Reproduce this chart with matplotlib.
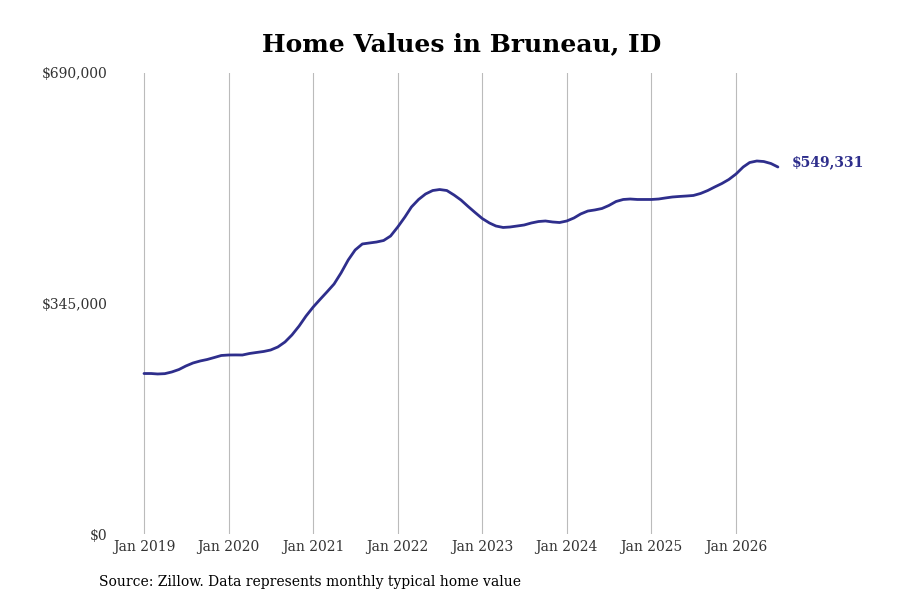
import pandas as pd
import numpy as np
import matplotlib
matplotlib.use("Agg")
import matplotlib.pyplot as plt
import matplotlib.dates as mdates

# === Données (valeur mensuelle typique) ===
dates = pd.date_range("2019-01-01", periods=91, freq="MS")
values = [
    240200, 240200, 239500, 240000, 242500, 246200, 251500, 256000, 259000, 261200,
    264200, 267200, 267900, 268000, 267900, 270200, 271700, 273200, 275400, 279900,
    287400, 297900, 311300, 326300, 339800, 351700, 362200, 374200, 390700, 410100,
    425100, 434100, 435600, 437000, 439300, 446000, 459500, 474500, 489400, 500700,
    508900, 514100, 515600, 514100, 507400, 499900, 490200, 481200, 472200, 465500,
    461000, 458800, 459500, 461000, 462500, 465500, 467700, 468500, 467000, 466200,
    468500, 473000, 479000, 483400, 485000, 487200, 491700, 497700, 500700, 501400,
    500700, 500700, 500700, 501400, 502900, 504400, 505200, 505900, 506700, 509700,
    514100, 519400, 524600, 530600, 538800, 549300, 556000, 558300, 557500, 554500,
    549331,
]
y_ticks = [0, 345000, 690000]
y_labels = ["$0", "$345,000", "$690,000"]
x_ticks = pd.date_range("2019-01-01", "2026-01-01", freq="YS")
x_labels = [f"Jan {d.year}" for d in x_ticks]

line_color = "#2e2e8c"
plt.rcParams["font.family"] = ["DejaVu Serif"]

fig = plt.figure(figsize=(9, 6), dpi=100)
ax = fig.add_axes([120 / 900, 1 - 534 / 600, 680 / 900, 461 / 600])

ax.plot(dates, values, color=line_color, linewidth=2.0, solid_capstyle="round")

# étiquette de la dernière valeur
ax.annotate(f"${values[-1]:,}", xy=(dates[-1], values[-1]),
            xytext=(10, 3.5), textcoords="offset points",
            ha="left", va="center", fontsize=10, fontweight="bold",
            color=line_color, annotation_clip=False)

# axe x : Jan 2019 -> 144 px, Jan 2026 -> 736 px
d0 = mdates.date2num(x_ticks[0])
d1 = mdates.date2num(x_ticks[-1])
per_px = (d1 - d0) / (736 - 144)
ax.set_xlim(d0 - 24 * per_px, d1 + 64 * per_px)
ax.set_ylim(0, 690000)

ax.set_xticks(x_ticks)
ax.set_xticklabels(x_labels)
ax.set_yticks(y_ticks)
ax.set_yticklabels(y_labels)
ax.tick_params(axis="both", length=0, labelsize=10, colors="#333333")
ax.tick_params(axis="y", pad=9)
ax.tick_params(axis="x", pad=4)

ax.grid(axis="x", color="#bbbbbb", linewidth=0.8)
ax.grid(axis="y", visible=False)
for s in ax.spines.values():
    s.set_visible(False)

fig.text(0.513, 1 - 44 / 600, "Home Values in Bruneau, ID", ha="center", va="center",
         fontsize=18, fontweight="bold")
fig.text(99 / 900, 1 - 582 / 600, "Source: Zillow. Data represents monthly typical home value",
         ha="left", va="center", fontsize=10)

fig.savefig("out.png", dpi=100)
